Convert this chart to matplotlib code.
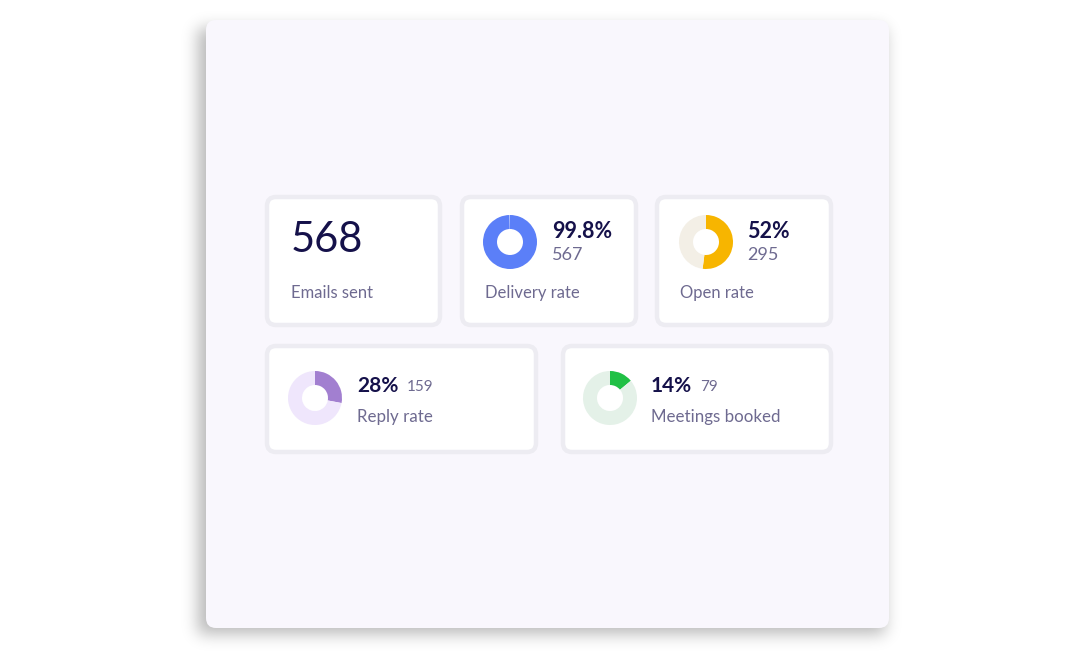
import matplotlib.pyplot as plt
import numpy as np
from matplotlib.patches import FancyBboxPatch

plt.rcParams['font.family'] = ['Lato', 'DejaVu Sans']

# Data
emails_sent = 568
donut_labels = ['Delivery rate', 'Open rate', 'Reply rate', 'Meetings booked']
donut_pcts = [99.8, 52, 28, 14]
donut_pct_text = ['99.8%', '52%', '28%', '14%']
donut_counts = ['567', '295', '159', '79']
donut_colors = ['#5b7ff8', '#f7b500', '#a27fd0', '#20c045']
track_colors = ['#e9eefe', '#f3efe6', '#efe6fc', '#e4f1e8']

W, H = 1089, 654
fig = plt.figure(figsize=(W / 100, H / 100), dpi=100)
ax = fig.add_axes([0, 0, 1, 1])

# soft shadow under the panel
px, py, pw, ph = 206, 20, 683, 608
mask = np.zeros((H, W))
mask[py + 8:py + ph + 6, px - 8:px + pw - 4] = 1.0
k = np.exp(-0.5 * (np.arange(-24, 25) / 8.0) ** 2)
k /= k.sum()
blur = np.apply_along_axis(lambda r: np.convolve(r, k, mode='same'), 1, mask)
blur = np.apply_along_axis(lambda c: np.convolve(c, k, mode='same'), 0, blur)
shadow = np.zeros((H, W, 4))
shadow[..., 3] = 0.28 * blur
ax.imshow(shadow, extent=(0, W, H, 0), zorder=0, interpolation='bilinear')

ax.add_patch(FancyBboxPatch((px, py), pw, ph, boxstyle='round,pad=0,rounding_size=10',
                            fc='#f9f7fd', ec='none', zorder=1))

# cards
cards = [(267, 197, 173, 128), (462, 197, 174, 128), (657, 197, 174, 128),
         (267, 346, 269, 106), (563, 346, 268, 106)]
for (x, y, w, h) in cards:
    ax.add_patch(FancyBboxPatch((x, y), w, h, boxstyle='round,pad=0,rounding_size=9',
                                fc='white', ec='#edecf2', lw=3.2, zorder=2))

navy = '#15114a'
grey = '#6e6a90'

# first card
ax.text(291, 240, str(emails_sent), fontsize=30, color=navy, va='center', ha='left', zorder=4)
ax.text(291, 293, 'Emails sent', fontsize=12, color=grey, va='center', ha='left', zorder=4)

centers = [(510, 242), (706, 242), (315, 398), (610, 398)]
for i, (cx, cy) in enumerate(centers):
    ax.pie([donut_pcts[i], 100 - donut_pcts[i]], colors=[donut_colors[i], track_colors[i]],
           center=(cx, cy), radius=27, startangle=-90, counterclock=True,
           wedgeprops=dict(width=14, edgecolor='none', zorder=3))

# top-row donut texts
for i, tx in zip([0, 1], [552, 747]):
    ax.text(tx, 231, donut_pct_text[i], fontsize=15.5, fontweight='bold', color=navy,
            va='center', ha='left', zorder=4)
    ax.text(tx, 255, donut_counts[i], fontsize=13, color=grey, va='center', ha='left', zorder=4)
ax.text(485, 293, donut_labels[0], fontsize=12, color=grey, va='center', ha='left', zorder=4)
ax.text(680, 293, donut_labels[1], fontsize=12, color=grey, va='center', ha='left', zorder=4)

# bottom-row donut texts
for i, tx, cx in zip([2, 3], [357, 651], [407, 700]):
    ax.text(tx, 386, donut_pct_text[i], fontsize=15, fontweight='bold', color=navy,
            va='center', ha='left', zorder=4)
    ax.text(cx, 387, donut_counts[i], fontsize=11, color=grey, va='center', ha='left', zorder=4)
    ax.text(tx, 417, donut_labels[i], fontsize=12.2, color=grey, va='center', ha='left', zorder=4)

ax.set_xlim(0, W)
ax.set_ylim(H, 0)
ax.set_aspect('equal')
ax.axis('off')
fig.savefig('out.png', dpi=100, facecolor='white')
